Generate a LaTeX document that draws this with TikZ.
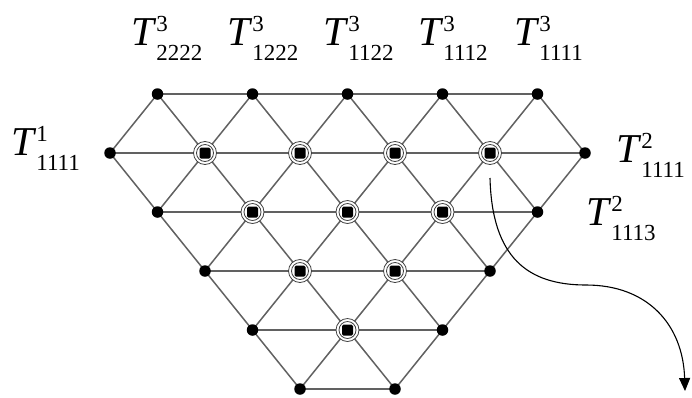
\documentclass[tikz,border=0pt]{standalone}
\usepackage{fontspec}
\usepackage{graphicx}
\setmainfont{Liberation Serif}
\usetikzlibrary{arrows.meta}
\newcommand\Tl[2]{\fontsize{41}{41}\selectfont\textit{T}\makebox[0pt][l]{\raisebox{14pt}{\fontsize{23}{23}\selectfont #1}}\raisebox{-15pt}{\fontsize{23}{23}\selectfont #2}}
\begin{document}
\begin{tikzpicture}[x=1pt,y=-1pt,
  lat/.style={draw=black!62, line width=1.5pt},
  dot/.style={circle, fill=black, inner sep=0pt, minimum size=11.5pt},
  ring/.style={draw=black!75, line width=0.8pt},
  lab/.style={anchor=base west, inner sep=0pt}]
\useasboundingbox (0,0) rectangle (692,397);
% lattice points
\foreach \r/\k in {0/1,0/3,0/5,0/7,0/9,
  1/0,1/2,1/4,1/6,1/8,1/10,
  2/1,2/3,2/5,2/7,2/9,
  3/2,3/4,3/6,3/8,
  4/3,4/5,4/7,
  5/4,5/6}
  \coordinate (n-\r-\k) at ({110+47.5*\k},{94+59*\r});
% horizontal edges
\draw[lat] (n-0-1) -- (n-0-9);
\draw[lat] (n-1-0) -- (n-1-10);
\draw[lat] (n-2-1) -- (n-2-9);
\draw[lat] (n-3-2) -- (n-3-8);
\draw[lat] (n-4-3) -- (n-4-7);
\draw[lat] (n-5-4) -- (n-5-6);
% diagonal edges
\foreach \r/\a/\b in {0/1/0,0/1/2,0/3/2,0/3/4,0/5/4,0/5/6,0/7/6,0/7/8,0/9/8,0/9/10,
  1/0/1,1/2/1,1/2/3,1/4/3,1/4/5,1/6/5,1/6/7,1/8/7,1/8/9,1/10/9,
  2/1/2,2/3/2,2/3/4,2/5/4,2/5/6,2/7/6,2/7/8,2/9/8,
  3/2/3,3/4/3,3/4/5,3/6/5,3/6/7,3/8/7,
  4/3/4,4/5/4,4/5/6,4/7/6}
  {\pgfmathtruncatemacro\s{\r+1}
   \draw[lat] (n-\r-\a) -- (n-\s-\b);}
% dots
\foreach \r/\k in {0/1,0/3,0/5,0/7,0/9,
  1/0,1/10,
  2/1,2/9,
  3/2,3/8,
  4/3,4/7,
  5/4,5/6}
  \node[dot] (d-\r-\k) at (n-\r-\k) {};
% ringed points
\foreach \r/\k in {1/2,1/4,1/6,1/8,2/3,2/5,2/7,3/4,3/6,4/5}
  {\draw[ring, fill=white] (n-\r-\k) circle (11.5);
   \draw[ring] (n-\r-\k) circle (8.5);
   \node[dot, rectangle, rounded corners=1.5pt, minimum size=11pt] (d-\r-\k) at (n-\r-\k) {};}
% labels
\node[lab] (t1) at (131,45) {\Tl{3}{2222}};
\node[lab] (t2) at (227,45) {\Tl{3}{1222}};
\node[lab] (t3) at (323,45) {\Tl{3}{1122}};
\node[lab] (t4) at (418,45) {\Tl{3}{1112}};
\node[lab] (t5) at (514,45) {\Tl{3}{1111}};
\node[lab] (l1) at (11,155) {\Tl{1}{1111}};
\node[lab] (r1) at (616,162) {\Tl{2}{1111}};
\node[lab] (r2) at (586,225) {\Tl{2}{1113}};
% arrow
\coordinate (as) at (490,178);
\coordinate (am) at (586,285);
\coordinate (ae) at (685,391);
\draw[line width=1.1pt, -{Triangle[length=13pt,width=11pt]}]
  (as) .. controls (492,258) and (528,285) .. (am)
  .. controls (648,285) and (683,325) .. (ae);
\end{tikzpicture}
\end{document}
